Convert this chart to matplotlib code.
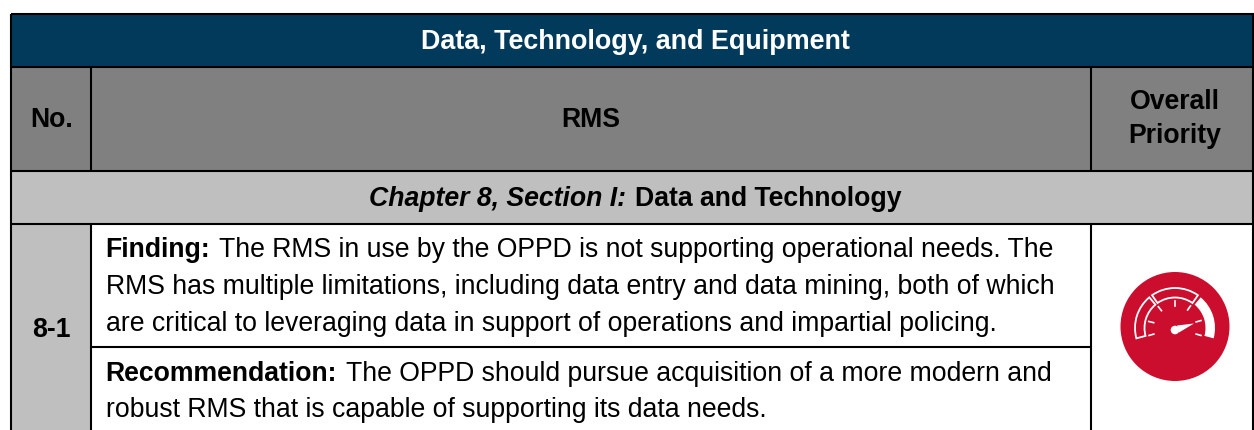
import matplotlib
matplotlib.use("Agg")
import matplotlib.pyplot as plt
from matplotlib.patches import Rectangle, Circle, Wedge, Polygon
import numpy as np

plt.rcParams['font.family'] = ['Liberation Sans', 'DejaVu Sans']

title = "Data, Technology, and Equipment"
col_heads = ["No.", "RMS", "Overall\nPriority"]
section_italic = "Chapter 8, Section I:"
section_bold = "Data and Technology"
rec_no = "8-1"
finding_lines = [
    "The RMS in use by the OPPD is not supporting operational needs. The",
    "RMS has multiple limitations, including data entry and data mining, both of which",
    "are critical to leveraging data in support of operations and impartial policing.",
]
rec_lines = [
    "The OPPD should pursue acquisition of a more modern and",
    "robust RMS that is capable of supporting its data needs.",
]

NAVY = "#023a5c"
GRAY = "#808080"
LIGHT = "#bfbfbf"
RED = "#cb0e2d"
BODY = 19.2

fig = plt.figure(figsize=(12.54, 4.30), dpi=100)
ax = fig.add_axes([0, 0, 1, 1])
ax.set_xlim(0, 1254)
ax.set_ylim(430, 0)
ax.axis("off")
fig.canvas.draw()
r = fig.canvas.get_renderer()


def cell(x0, y0, x1, y1, color):
    ax.add_patch(Rectangle((x0, y0), x1 - x0, y1 - y0, fc=color, ec="none", zorder=1))


def run_text(x, y, first, rest):
    # one line with two font styles, second part starts where the first ends
    t = ax.text(x, y, first, fontsize=BODY, va="center_baseline", weight="bold")
    bb = t.get_window_extent(r)
    ax.text(bb.x1 + 9, y, rest, fontsize=BODY, va="center_baseline")


# fills
cell(11, 14, 1254, 67, NAVY)
cell(11, 67, 1254, 171, GRAY)
cell(11, 171, 1254, 224, LIGHT)
cell(11, 224, 91, 430, LIGHT)

# grid lines
lw = 1.5
for x, y0, y1 in [(11, 14, 430), (91, 67, 171), (91, 224, 430), (1091, 67, 171), (1091, 224, 430), (1253, 14, 430)]:
    ax.plot([x, x], [y0, y1], color="black", lw=lw, zorder=2, solid_capstyle="butt")
for y, x0, x1 in [(14, 11, 1254), (67, 11, 1254), (171, 11, 1254), (224, 11, 1254), (347, 91, 1091)]:
    ax.plot([x0, x1], [y, y], color="black", lw=lw, zorder=2, solid_capstyle="butt")

# headers
ax.text(635.5, 39, title, color="white", weight="bold", fontsize=19.35, ha="center", va="center_baseline")
ax.text(51.5, 117, col_heads[0], weight="bold", fontsize=BODY, ha="center", va="center_baseline")
ax.text(591, 117, col_heads[1], weight="bold", fontsize=BODY, ha="center", va="center_baseline")
ax.text(1175, 119, col_heads[2], weight="bold", fontsize=BODY, ha="center", va="center",
        linespacing=1.4)

# section row
sec1 = ax.text(369, 196, section_italic, weight="bold", style="italic", fontsize=BODY, va="center_baseline")
bb = sec1.get_window_extent(r)
ax.text(bb.x1 + 9, 196, section_bold, weight="bold", fontsize=BODY, va="center_baseline")

# body
ax.text(51, 327, rec_no, weight="bold", fontsize=BODY, ha="center", va="center_baseline")
run_text(105.5, 247, "Finding:", finding_lines[0])
ax.text(105.5, 284, finding_lines[1], fontsize=BODY, va="center_baseline")
ax.text(105.5, 321, finding_lines[2], fontsize=BODY, va="center_baseline")
run_text(105.5, 371, "Recommendation:", rec_lines[0])
ax.text(105.5, 407, rec_lines[1], fontsize=BODY, va="center_baseline")

# gauge icon, inverted y so angles are measured clockwise from +x
ax.add_patch(Circle((1175, 326.5), 54.5, fc=RED, ec="none", zorder=3))
gx, gy = 1175, 328
ax.add_patch(Wedge((gx, gy), 40, -50, 15, width=9.5, fc="white", ec="none", zorder=4))
ax.add_patch(Wedge((gx, gy), 40, 235, 305, width=9.5, fc=RED, ec="white", lw=1.3, zorder=4))
ax.add_patch(Wedge((gx, gy), 40, 165, 230, width=9.5, fc=RED, ec="white", lw=1.3, zorder=4))
for a in [196, 166, 128, 90, 55, 16, -16]:
    c, s = np.cos(np.radians(a)), np.sin(np.radians(a))
    ax.plot([gx + 22 * c, gx + 27 * c], [gy - 22 * s, gy - 27 * s], color="white", lw=1.2, zorder=5)
ax.add_patch(Circle((1175, 330), 4.3, fc="white", ec="none", zorder=5))
ax.add_patch(Polygon([(1177, 325.5), (1194, 323.5), (1179, 332.5)], fc="white", ec="none", zorder=5))

fig.savefig("out.png", dpi=100)
